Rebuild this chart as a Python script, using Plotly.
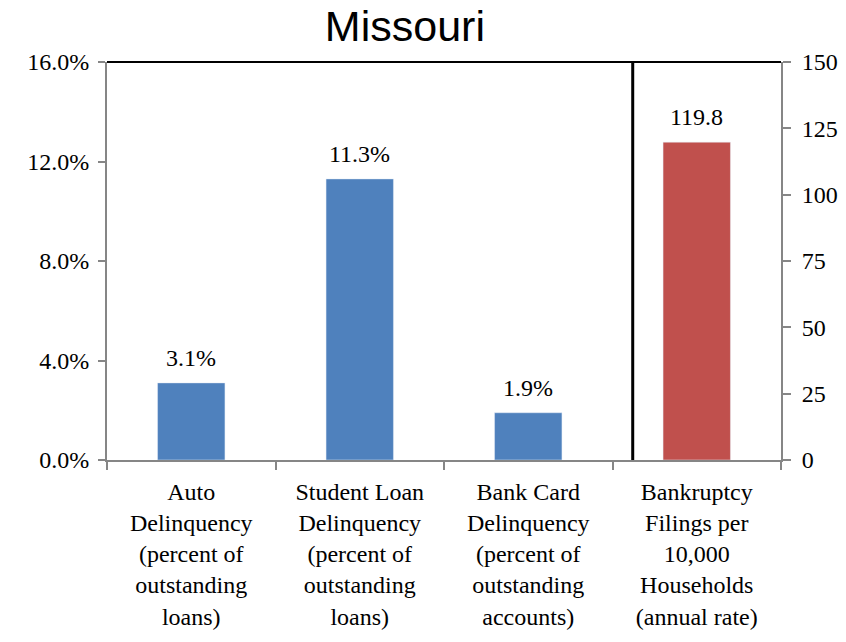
import plotly.graph_objects as go

categories = [
    "Auto<br>Delinquency<br>(percent of<br>outstanding<br>loans)",
    "Student Loan<br>Delinquency<br>(percent of<br>outstanding<br>loans)",
    "Bank Card<br>Delinquency<br>(percent of<br>outstanding<br>accounts)",
    "Bankruptcy<br>Filings per<br>10,000<br>Households<br>(annual rate)",
]
pct_values = [0.031, 0.113, 0.019]
pct_labels = ["3.1%", "11.3%", "1.9%"]
bankruptcy_values = [119.8]
bankruptcy_labels = ["119.8"]

AXIS_GRAY = "#868686"
SERIF = "Liberation Serif, Times New Roman, serif"
FS = 24

fig = go.Figure()
fig.add_trace(go.Bar(x=categories[:3], y=pct_values, marker_color="#4F81BD",
                     width=0.4, yaxis="y", showlegend=False))
fig.add_trace(go.Bar(x=categories[3:], y=bankruptcy_values, marker_color="#C0504D",
                     width=0.4, yaxis="y2", showlegend=False))

annotations = []
for c, v, t in zip(categories[:3], pct_values, pct_labels):
    annotations.append(dict(x=c, y=v, xref="x", yref="y", text=t, showarrow=False,
                            yanchor="bottom", yshift=10,
                            font=dict(family=SERIF, size=FS, color="black")))
for c, v, t in zip(categories[3:], bankruptcy_values, bankruptcy_labels):
    annotations.append(dict(x=c, y=v, xref="x", yref="y2", text=t, showarrow=False,
                            yanchor="bottom", yshift=10,
                            font=dict(family=SERIF, size=FS, color="black")))

separator_x = 2.62
fig.update_layout(
    width=830, height=626,
    margin=dict(l=99, r=57, t=54, b=174, autoexpand=False),
    plot_bgcolor="white", paper_bgcolor="white",
    barmode="overlay",
    title=dict(text="Missouri", x=0.442, xref="paper", xanchor="center",
               y=1.0, yref="container", yanchor="top", pad=dict(t=3, b=0),
               font=dict(family="Liberation Sans, Arial, sans-serif", size=43, color="black")),
    xaxis=dict(type="category", categoryorder="array", categoryarray=categories,
               range=[-0.5, 3.5], tickson="boundaries", ticks="outside", ticklen=8,
               tickcolor=AXIS_GRAY, tickwidth=2, showline=True, linecolor=AXIS_GRAY,
               linewidth=2, showgrid=False, tickangle=0, automargin=False,
               ticklabelstandoff=9,
               tickfont=dict(family=SERIF, size=FS, color="black")),
    yaxis=dict(range=[0, 0.16], dtick=0.04, tickformat=".1%", ticks="outside",
               ticklen=7, tickcolor=AXIS_GRAY, tickwidth=2, showline=True,
               linecolor=AXIS_GRAY, linewidth=2, showgrid=False, zeroline=False,
               automargin=False, ticklabelstandoff=4,
               tickfont=dict(family=SERIF, size=FS, color="black")),
    yaxis2=dict(range=[0, 150], dtick=25, overlaying="y", side="right",
                ticks="outside", ticklen=8, tickcolor=AXIS_GRAY, tickwidth=2,
                showline=True, linecolor=AXIS_GRAY, linewidth=2, showgrid=False,
                zeroline=False, automargin=False, ticklabelstandoff=6,
                tickfont=dict(family=SERIF, size=FS, color="black")),
    annotations=annotations,
    shapes=[
        dict(type="line", xref="paper", yref="paper", x0=0, x1=1, y0=1, y1=1,
             line=dict(color="black", width=2)),
        dict(type="line", xref="x", yref="paper", x0=separator_x, x1=separator_x,
             y0=0, y1=1, line=dict(color="black", width=3)),
    ],
)

fig.write_html("out.html")
